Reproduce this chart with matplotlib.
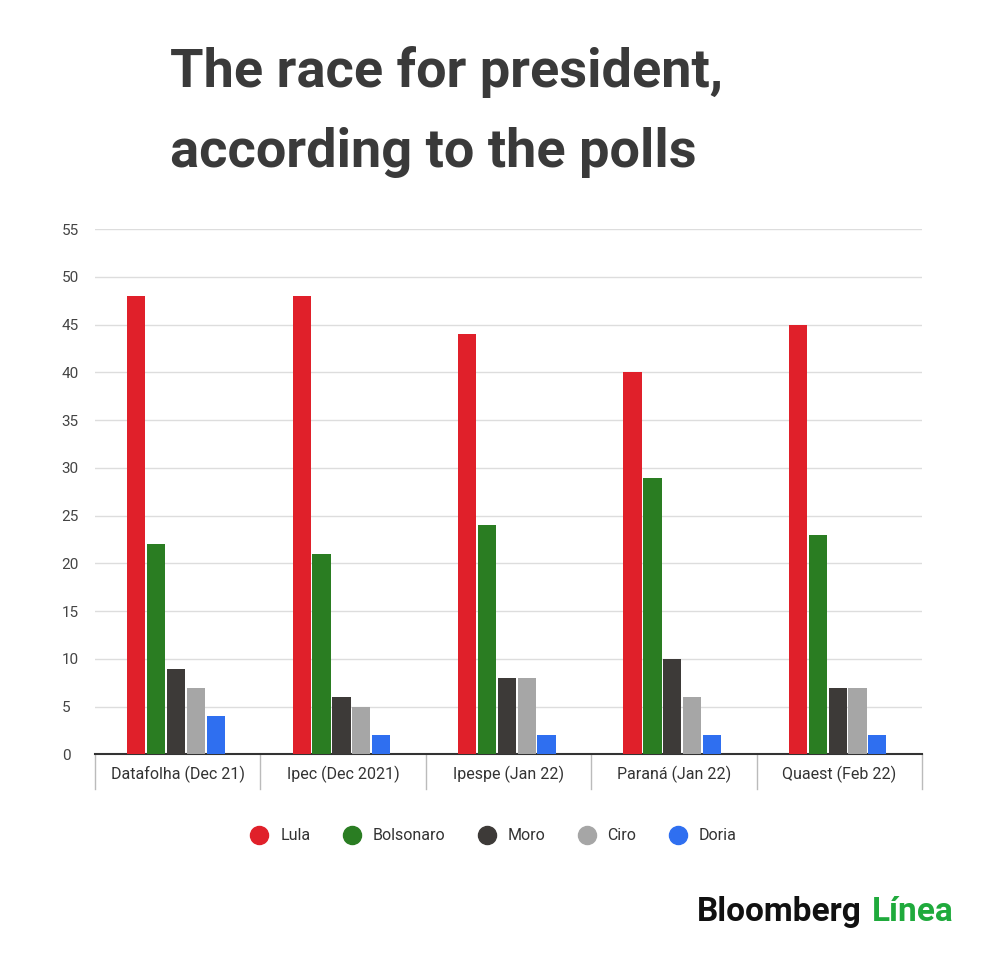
import matplotlib.pyplot as plt
import numpy as np

polls = ['Datafolha (Dec 21)', 'Ipec (Dec 2021)', 'Ipespe (Jan 22)', 'Paraná (Jan 22)', 'Quaest (Feb 22)']
candidates = ['Lula', 'Bolsonaro', 'Moro', 'Ciro', 'Doria']
lula = [48, 48, 44, 40, 45]
bolsonaro = [22, 21, 24, 29, 23]
moro = [9, 6, 8, 10, 7]
ciro = [7, 5, 8, 6, 7]
doria = [4, 2, 2, 2, 2]
colors = ['#e0202a', '#2a7d22', '#3d3a38', '#a6a6a6', '#2f6ff0']

plt.rcParams['font.family'] = ['Roboto', 'DejaVu Sans']
fig = plt.figure(figsize=(10, 9.55), dpi=100)
ax = fig.add_axes([0.095, 0.21, 0.827, 0.55])

x = np.arange(len(polls))
w = 0.12
for i, (vals, c, name) in enumerate(zip([lula, bolsonaro, moro, ciro, doria], colors, candidates)):
    ax.bar(x - 0.25 + i * w, vals, w * 0.92, color=c, label=name, zorder=3)

ax.set_xlim(-0.5, 4.5)
ax.set_ylim(0, 55)
ax.set_yticks(range(0, 56, 5))
ax.yaxis.grid(True, color='#dddddd', lw=1, zorder=0)
ax.tick_params(axis='y', length=0, labelsize=11, labelcolor='#444444')
for lab in ax.get_yticklabels():
    lab.set_horizontalalignment('left')
ax.yaxis.set_tick_params(pad=24)
ax.set_xticks(x)
ax.set_xticklabels(polls, fontsize=11.5, color='#333333')
ax.tick_params(axis='x', length=0, pad=8)
for b in np.arange(-0.5, 5, 1):
    ax.plot([b, b], [0, -0.065], transform=ax.get_xaxis_transform(), color='#bbbbbb', lw=1, clip_on=False)
for s in ['top', 'right', 'left']:
    ax.spines[s].set_visible(False)
ax.spines['bottom'].set_color('#333333')
ax.spines['bottom'].set_linewidth(1.5)

handles = [plt.Line2D([], [], marker='o', ls='', color=c, markersize=13) for c in colors]
fig.legend(handles, candidates, loc='center', bbox_to_anchor=(0.49, 0.125), ncol=5, frameon=False,
           fontsize=11.5, handletextpad=0.3, columnspacing=1.6, labelcolor='#333333')

fig.text(0.17, 0.925, 'The race for president,', fontsize=39, fontweight='bold', color='#3a3a3a', va='center')
fig.text(0.17, 0.84, 'according to the polls', fontsize=39, fontweight='bold', color='#3a3a3a', va='center')
fig.text(0.697, 0.045, 'Bloomberg', fontsize=24, fontweight='bold', color='#111111', va='center')
fig.text(0.872, 0.045, 'Línea', fontsize=24, fontweight='bold', color='#1faa3c', va='center')

fig.savefig('out.png')
